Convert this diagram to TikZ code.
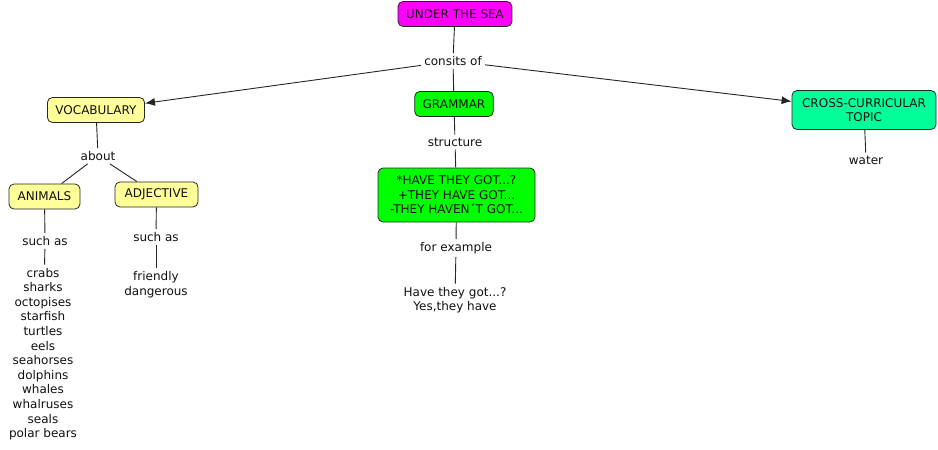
\documentclass[tikz,border=0pt]{standalone}
\usepackage{fontspec}
\setmainfont{DejaVu Sans}
\usetikzlibrary{arrows.meta}
\definecolor{cmag}{HTML}{FF00FF}
\definecolor{cyel}{HTML}{FFFF99}
\definecolor{cgrn}{HTML}{00FF00}
\definecolor{ccross}{HTML}{00FF99}
\definecolor{ctxt}{HTML}{111111}
\begin{document}
\begin{tikzpicture}[x=1pt,y=-1pt,
  every node/.style={font=\fontsize{12}{14.6}\selectfont, text=ctxt, align=center},
  concept/.style={draw=black!85, line width=0.8pt, rounded corners=5pt, inner xsep=8pt, inner ysep=4pt, minimum height=25pt},
  linklabel/.style={inner sep=3pt},
  conn/.style={draw=black!85, line width=0.9pt},
  arr/.style={conn, -{Latex[length=10pt,width=8pt]}}]
\useasboundingbox[fill=white] (0,0) rectangle (938,450);

\node[concept, fill=cmag] (sea) at (455,14) {UNDER THE SEA};
\node[linklabel] (consits) at (453,61) {consits of};
\node[concept, fill=cyel] (vocab) at (96,110) {VOCABULARY};
\node[concept, fill=cgrn] (grammar) at (454,104) {GRAMMAR};
\node[concept, fill=ccross, minimum width=144pt, minimum height=39pt] (cross) at (864,110) {CROSS-CURRICULAR\\TOPIC};

\node[linklabel] (about) at (98,156) {about};
\node[concept, fill=cyel, minimum width=71pt] (animals) at (44.5,196.5) {ANIMALS};
\node[concept, fill=cyel, minimum width=83pt] (adj) at (156.5,194.5) {ADJECTIVE};
\node[linklabel] (such1) at (45,241) {such as};
\node[linklabel] (list) at (43,354) {crabs\\sharks\\octopises\\starfish\\turtles\\eels\\seahorses\\dolphins\\whales\\whalruses\\seals\\polar bears};
\node[linklabel] (such2) at (156,237) {such as};
\node[linklabel] (adjlist) at (156,284.5) {friendly\\dangerous};

\node[linklabel] (structure) at (455,142) {structure};
\node[concept, fill=cgrn, minimum width=157pt, minimum height=54pt] (have) at (456.5,195) {*HAVE THEY GOT...?\\+THEY HAVE GOT...\\-THEY HAVEN´T GOT...};
\node[linklabel] (forex) at (456,248) {for example};
\node[linklabel] (example) at (455,300) {Have they got...?\\Yes,they have};

\node[linklabel] (water) at (866,160) {water};

\draw[conn] (sea) -- (consits);
\draw[conn] (consits) -- (grammar);
\draw[arr] (consits) -- (vocab);
\draw[arr] (consits) -- (cross);
\draw[conn] (vocab) -- (about);
\draw[conn] (about) -- (animals);
\draw[conn] (about) -- (adj);
\draw[conn] (animals) -- (such1);
\draw[conn] (such1) -- (list);
\draw[conn] (adj) -- (such2);
\draw[conn] (such2) -- (adjlist);
\draw[conn] (grammar) -- (structure);
\draw[conn] (structure) -- (have);
\draw[conn] (have) -- (forex);
\draw[conn] (forex) -- (example);
\draw[conn] (cross) -- (water);
\end{tikzpicture}
\end{document}
